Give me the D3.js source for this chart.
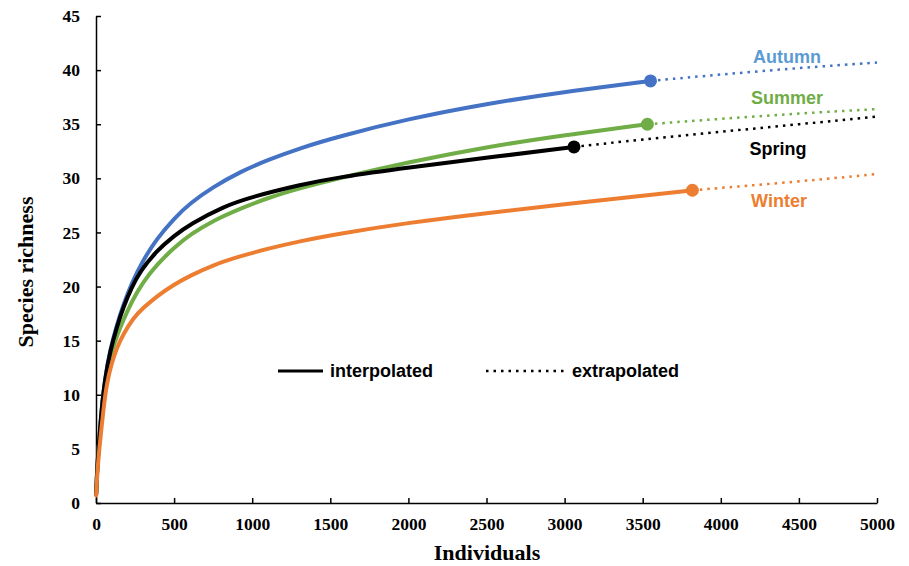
<!DOCTYPE html>
<html>
<head>
<meta charset="utf-8">
<script src="https://cdn.jsdelivr.net/npm/d3@7"></script>
<style>
	body { margin: 0; background: #fff; }
	svg { display: block; }
	.axis text { font-family: "Liberation Serif", "Times New Roman", serif; font-weight: bold; font-size: 17.5px; fill: #000; }
	.axis path, .axis line { stroke: #000; stroke-width: 1.5px; }
	.axis-title { font-family: "Liberation Serif", "Times New Roman", serif; font-weight: bold; font-size: 22px; }
	.lbl { font-family: "Liberation Sans", Arial, sans-serif; font-weight: bold; font-size: 18px; }
</style>
</head>
<body>
<div class="chart"></div>
<script>
// series names + colours
var seasons = ["Autumn", "Summer", "Spring", "Winter"];
var lineColors = ["#4472C4", "#70AD47", "#000000", "#ED7D31"];
var labelColors = ["#5B9BD5", "#70AD47", "#000000", "#ED7D31"];

// interpolated part of each curve: [individuals, species richness]
var autumnInterp = [[1,0.8],[8,3.4],[21,5.9],[36,8.7],[58,11.6],[90,14.1],[132,16.4],[175,18.3],[228,20.3],[300,22.4],[388,24.4],[500,26.3],[602,27.7],[750,29.2],[922,30.6],[1100,31.7],[1306,32.8],[1562,33.9],[2000,35.5],[2500,36.9],[3000,38.0],[3550,39.0]];
var summerInterp = [[1,0.8],[8,3.4],[21,5.8],[36,8.6],[58,11.4],[90,13.5],[132,15.4],[175,16.9],[228,18.6],[300,20.4],[388,22.0],[500,23.6],[602,24.8],[750,26.1],[922,27.2],[1100,28.2],[1306,29.1],[1550,30.0],[2000,31.5],[2500,32.9],[3000,34.0],[3530,35.0]];
var springInterp = [[1,0.8],[8,3.4],[21,5.9],[36,8.7],[58,11.5],[90,14.0],[132,16.2],[175,18.1],[228,19.9],[282,21.4],[388,23.3],[500,24.7],[602,25.75],[815,27.4],[1000,28.3],[1306,29.4],[1550,30.1],[2000,31.0],[2500,31.9],[3060,32.9]];
var winterInterp = [[1,0.7],[8,2.8],[21,5.0],[47,8.6],[68,11.0],[100,12.9],[132,14.3],[175,15.6],[239,17.1],[300,18.0],[388,19.1],[500,20.2],[602,21.0],[750,22.0],[922,22.8],[1100,23.5],[1306,24.2],[1562,24.9],[2000,25.9],[2500,26.8],[3000,27.6],[3500,28.4],[3818,28.9]];

// extrapolated part
var autumnExtrap = [[3550,39.0],[4000,39.6],[4500,40.2],[5000,40.7]];
var summerExtrap = [[3530,35.0],[4000,35.5],[4500,36.0],[5000,36.4]];
var springExtrap = [[3060,32.9],[3500,33.6],[4000,34.3],[4500,35.0],[5000,35.7]];
var winterExtrap = [[3818,28.9],[4500,29.7],[5000,30.4]];

var xTicks = [0, 500, 1000, 1500, 2000, 2500, 3000, 3500, 4000, 4500, 5000];
var yTicks = [0, 5, 10, 15, 20, 25, 30, 35, 40, 45];

var interp = [autumnInterp, summerInterp, springInterp, winterInterp];
var extrap = [autumnExtrap, summerExtrap, springExtrap, winterExtrap];

// where the season names sit (pixels)
var labelPos = [[787, 57], [787, 98], [778, 149], [779, 201]];

var width = 909, height = 566;

var svg = d3.select(".chart").append("svg")
	.attr("width", width)
	.attr("height", height);

var xScale = d3.scaleLinear().domain([0, 5000]).range([96, 877]);
var yScale = d3.scaleLinear().domain([0, 45]).range([503, 16]);

// axes, ticks point inwards
svg.append("g")
	.attr("class", "axis")
	.attr("transform", "translate(0," + yScale(0) + ")")
	.call(d3.axisBottom(xScale).tickValues(xTicks).tickFormat(d3.format("d"))
		.tickSizeInner(-5).tickSizeOuter(0).tickPadding(15));

svg.append("g")
	.attr("class", "axis")
	.attr("transform", "translate(" + xScale(0) + ",0)")
	.call(d3.axisLeft(yScale).tickValues(yTicks).tickFormat(d3.format("d"))
		.tickSizeInner(-5).tickSizeOuter(0).tickPadding(16));

// basis keeps the curves smooth like the excel ones
var line = d3.line()
	.x(d => xScale(d[0]))
	.y(d => yScale(d[1]))
	.curve(d3.curveBasis);

// dotted extrapolations first, so solid lines cover the joins
seasons.forEach(function(s, i){
	svg.append("path")
		.datum(extrap[i])
		.attr("d", line)
		.attr("fill", "none")
		.attr("stroke", lineColors[i])
		.attr("stroke-width", 2.5)
		.attr("stroke-dasharray", "2.5,5");
});

seasons.forEach(function(s, i){
	svg.append("path")
		.datum(interp[i])
		.attr("d", line)
		.attr("fill", "none")
		.attr("stroke", lineColors[i])
		.attr("stroke-width", 4)
		.attr("stroke-linecap", "round");

	var last = interp[i][interp[i].length - 1];
	svg.append("circle")
		.attr("cx", xScale(last[0]))
		.attr("cy", yScale(last[1]))
		.attr("r", 6.5)
		.attr("fill", lineColors[i]);

	svg.append("text")
		.attr("class", "lbl")
		.attr("x", labelPos[i][0])
		.attr("y", labelPos[i][1])
		.attr("dy", "0.35em")
		.attr("text-anchor", "middle")
		.attr("fill", labelColors[i])
		.text(s);
});

// legend
svg.append("line")
	.attr("x1", 278).attr("x2", 323)
	.attr("y1", 371).attr("y2", 371)
	.attr("stroke", "#000").attr("stroke-width", 3);
svg.append("text")
	.attr("class", "lbl")
	.attr("x", 330).attr("y", 371).attr("dy", "0.35em")
	.text("interpolated");
svg.append("line")
	.attr("x1", 486).attr("x2", 566)
	.attr("y1", 371).attr("y2", 371)
	.attr("stroke", "#000").attr("stroke-width", 2.5)
	.attr("stroke-dasharray", "2.5,5");
svg.append("text")
	.attr("class", "lbl")
	.attr("x", 572).attr("y", 371).attr("dy", "0.35em")
	.text("extrapolated");

// axis titles
svg.append("text")
	.attr("class", "axis-title")
	.attr("x", 487).attr("y", 560)
	.attr("text-anchor", "middle")
	.text("Individuals");
svg.append("text")
	.attr("class", "axis-title")
	.attr("transform", "translate(33,272) rotate(-90)")
	.attr("text-anchor", "middle")
	.text("Species richness");
</script>
</body>
</html>
